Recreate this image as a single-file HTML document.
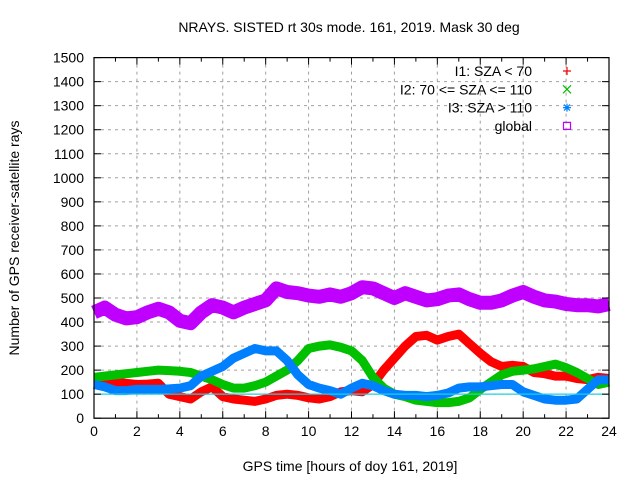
<!DOCTYPE html>
<html><head><meta charset="utf-8"><style>
body{margin:0;background:#fff}
svg{display:block;font-family:"Liberation Sans",sans-serif}
</style></head><body>
<svg id="chart" width="640" height="480" xmlns="http://www.w3.org/2000/svg">
<text x="349" y="32" text-anchor="middle" font-size="14">NRAYS. SISTED rt 30s mode. 161, 2019. Mask 30 deg</text>
<text transform="translate(19,238) rotate(-90)" text-anchor="middle" font-size="14">Number of GPS receiver-satellite rays</text>
<text x="350" y="471" text-anchor="middle" font-size="14">GPS time [hours of doy 161, 2019]</text>
<g id="grid"></g>
<g id="series"></g>
<g id="axes"></g>
<g id="legend"></g>
</svg>
<script>
const hours = [0,0.5,1,1.5,2,2.5,3,3.5,4,4.5,5,5.5,6,6.5,7,7.5,8,8.5,9,9.5,10,10.5,11,11.5,12,12.5,13,13.5,14,14.5,15,15.5,16,16.5,17,17.5,18,18.5,19,19.5,20,20.5,21,21.5,22,22.5,23,23.5,24];
const i1Values = [160,155,150,145,140,142,145,100,90,80,110,130,90,80,75,70,80,95,100,95,85,80,90,110,115,110,140,200,250,300,340,345,325,340,350,310,270,235,215,220,215,190,185,175,175,165,160,170,165];
const i2Values = [170,175,180,185,190,195,200,198,195,190,175,160,140,125,125,135,150,175,200,240,290,300,305,295,280,240,170,125,100,90,75,70,65,65,70,85,120,150,180,195,200,205,215,225,210,190,165,140,150];
const i3Values = [140,130,115,115,120,120,120,122,125,135,175,195,215,250,270,290,280,280,240,180,140,125,115,100,125,145,135,115,100,95,95,90,95,105,125,130,130,135,140,140,110,95,80,75,75,80,120,160,160];
const globalValues = [440,460,430,415,420,440,455,440,405,395,440,470,460,440,460,475,490,540,525,520,510,505,515,505,520,545,540,520,500,520,505,490,495,510,515,495,480,480,490,510,525,505,490,485,475,470,470,465,475];
const yTicks = [0,100,200,300,400,500,600,700,800,900,1000,1100,1200,1300,1400,1500];
const xTicks = [0,2,4,6,8,10,12,14,16,18,20,22,24];
const legendLabels = ["I1: SZA < 70","I2: 70 <= SZA <= 110","I3: SZA > 110","global"];

const L=94,R=609,T=57.6,B=418.2;
const xs=h=>L+(R-L)*h/24;
const ys=v=>B-(B-T)*v/1500;
const NS="http://www.w3.org/2000/svg";
function mk(tag,attrs,parent){const e=document.createElementNS(NS,tag);for(const k in attrs)e.setAttribute(k,attrs[k]);parent.appendChild(e);return e;}
const grid=document.getElementById('grid'),axes=document.getElementById('axes'),ser=document.getElementById('series'),leg=document.getElementById('legend');

yTicks.forEach(v=>{
  if(v>0&&v<1500){const g=mk('line',{x1:L,x2:R,y1:ys(v),y2:ys(v),stroke:'#a0a0a0','stroke-dasharray':'3,4'},grid);
  
  }
  mk('line',{x1:L,x2:L+7,y1:ys(v),y2:ys(v),stroke:'#000'},axes);
  mk('line',{x1:R,x2:R-7,y1:ys(v),y2:ys(v),stroke:'#000'},axes);
  const t=mk('text',{x:L-10,y:ys(v)+5,'text-anchor':'end','font-size':'14'},axes);t.textContent=v;
  
  
});
xTicks.forEach(h=>{
  if(h>0&&h<24){const g=mk('line',{x1:xs(h),x2:xs(h),y1:T,y2:B,stroke:'#a0a0a0','stroke-dasharray':'3,4'},grid);
  
  }
  mk('line',{x1:xs(h),x2:xs(h),y1:B,y2:B-7,stroke:'#000'},axes);
  mk('line',{x1:xs(h),x2:xs(h),y1:T,y2:T+7,stroke:'#000'},axes);
  if(h<24){
    mk('line',{x1:xs(h+1),x2:xs(h+1),y1:B,y2:B-4,stroke:'#000'},axes);
    mk('line',{x1:xs(h+1),x2:xs(h+1),y1:T,y2:T+4,stroke:'#000'},axes);
  }
  const t=mk('text',{x:xs(h),y:B+18,'text-anchor':'middle','font-size':'14'},axes);t.textContent=h;
  
  
});
mk('rect',{x:L,y:T,width:R-L,height:B-T,fill:'none',stroke:'#000','stroke-width':1.2},axes);

function band(vals,color,w,name){
  const pts=hours.map((h,i)=>xs(h).toFixed(1)+','+ys(vals[i]).toFixed(1)).join(' ');
  const p=mk('polyline',{points:pts,fill:'none',stroke:color,'stroke-width':w,'stroke-linejoin':'round','stroke-linecap':'butt'},ser);
  
  
}
band(globalValues,'#c000ff',14,'global-series');
band(i1Values,'#ff0000',9,'i1-series');
band(i2Values,'#00c000',9,'i2-series');
band(i3Values,'#0080ff',9,'i3-series');
const cl=mk('line',{x1:L,x2:R,y1:ys(100),y2:ys(100),stroke:'#20d0e0','stroke-width':1.2},ser);



const colors=['#ff0000','#00c000','#0080ff','#c000ff'];
const marks=['M-4,0H4M0,-4V4','M-4,-4L4,4M-4,4L4,-4','M-4,0H4M0,-4V4M-3,-3L3,3M-3,3L3,-3','M-3.5,-3.5H3.5V3.5H-3.5Z'];
legendLabels.forEach((lab,i)=>{
  const y=71+i*18.3;
  const t=mk('text',{x:532,y:y+5,'text-anchor':'end','font-size':'14'},leg);t.textContent=lab;
  
  
  const m=mk('path',{d:marks[i],transform:`translate(567,${y})`,stroke:colors[i],fill:'none','stroke-width':1.2},leg);
  
  
});
</script>
</body></html>
